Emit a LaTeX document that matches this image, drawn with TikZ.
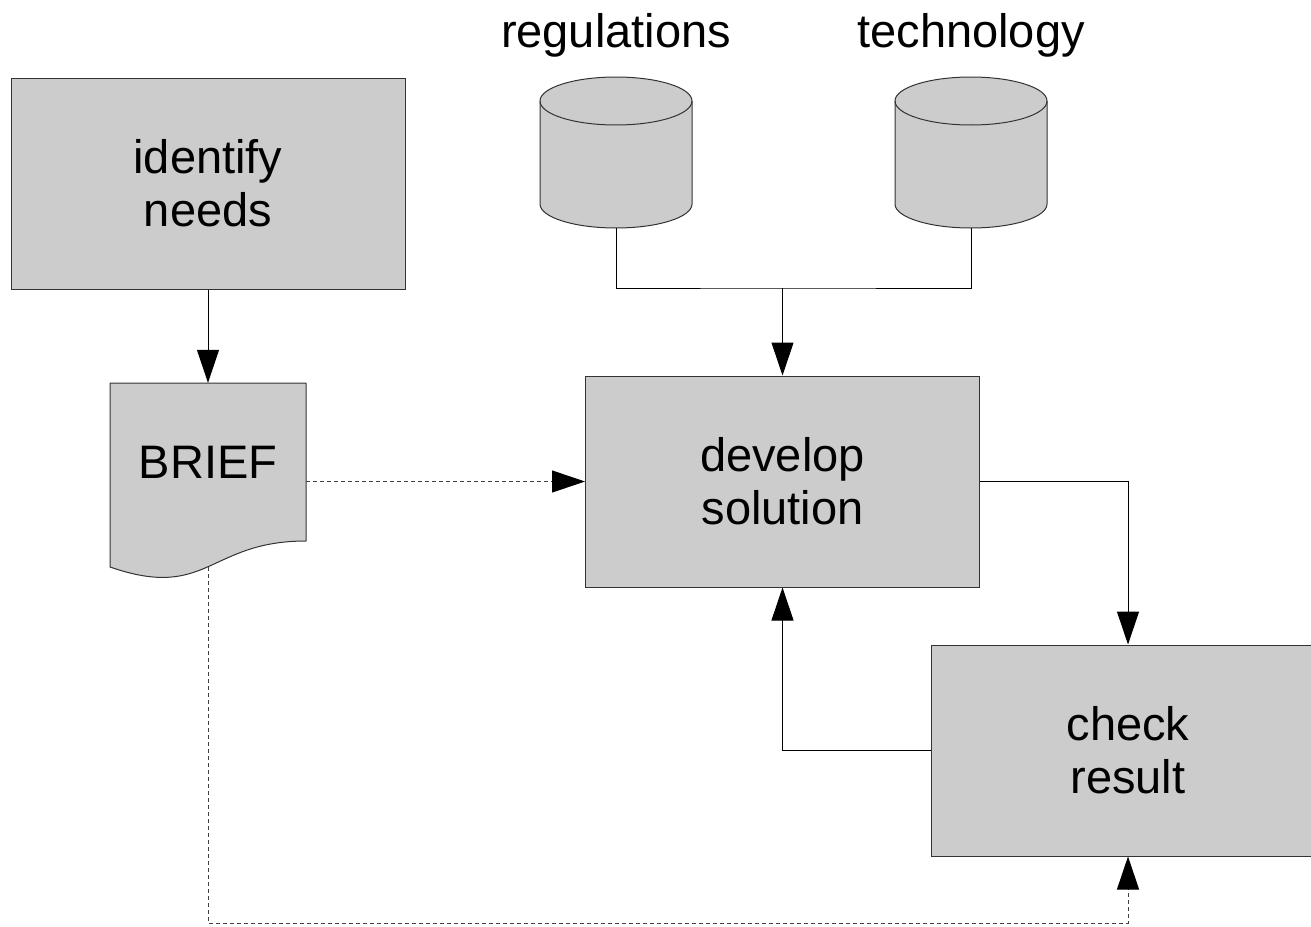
\documentclass[tikz,border=0pt]{standalone}
\usepackage{fontspec}
\setmainfont{Liberation Sans}
\usetikzlibrary{arrows.meta}
% a strut with the ascent and descent of the sans font
\newcommand\lnstrut{\rule[-9.96pt]{0pt}{52.5pt}}

\begin{document}
\begin{tikzpicture}[x=1pt,y=1pt,
  every node/.style={font=\fontsize{47}{52.5}\selectfont},
  box/.style={draw=black!80, fill=black!20, line width=1pt,
    minimum width=394pt, minimum height=211pt, align=center, inner sep=0pt},
  frame/.style={inner sep=0pt, minimum width=#1},
  shade/.style={draw=black!80, fill=black!20, line width=1pt, line join=round},
  wire/.style={draw=black, line width=1pt},
  arr/.style={wire, -{Triangle[length=33pt,width=22pt]}},
  darr/.style={draw=black!75, line width=1pt, dash pattern=on 4pt off 3pt,
    -{Triangle[length=33pt,width=22pt,color=black]}},
  can/.pic={
    \filldraw[shade] (-76,51.5) -- (-76,-51.5)
      arc[start angle=180,end angle=360,x radius=76pt,y radius=24pt]
      -- (76,51.5)
      arc[start angle=0,end angle=180,x radius=76pt,y radius=24pt] -- cycle;
    \draw[shade, fill=none] (-76,51.5)
      arc[start angle=180,end angle=360,x radius=76pt,y radius=24pt];
  }
]
\useasboundingbox (0,0) rectangle (1311,-926);
\clip (0,0) rectangle (1311,-926);

% process boxes
\node[box] (needs) at (208,-183.5) {\lnstrut identify\\\lnstrut needs};
\node[box] (dev) at (782.5,-481.5) {\lnstrut develop\\\lnstrut solution};
\node[box] (check) at (1128,-750.5) {\lnstrut check\\\lnstrut result};

% document shape with wavy bottom edge
\filldraw[shade] (110,-383) -- (306,-383) -- (306,-541)
  .. controls (208,-541) and (208,-601) .. (110,-567) -- cycle;
\node[frame=196pt, minimum height=184pt, text height=20pt, text depth=14pt]
  (brief) at (208,-475) {BRIEF};

% data stores
\node[frame=152pt, minimum height=151pt] (reg) at (616,-152.5) {};
\node[frame=152pt, minimum height=151pt] (tech) at (971,-152.5) {};
\pic at (reg.center) {can};
\pic at (tech.center) {can};
\node[anchor=base] (reglabel) at (616,-47) {regulations};
\node[anchor=base] (techlabel) at (971,-47) {technology};

% connectors
\coordinate (join) at (782.5,-288);
\coordinate (low) at (0,-923);
\draw[wire] (reg.south) |- (join) -| (tech.south);
\draw[arr] (join) -- (dev.north);
\draw[arr] (needs.south) -- (brief.north);
\draw[darr] (brief.east |- dev.west) -- (dev.west);
\draw[darr] (brief.south) -- (brief.south |- low) -| (check.south);
\draw[arr] (dev.east) -| (check.north);
\draw[arr] (check.west) -| (dev.south);
\end{tikzpicture}
\end{document}
